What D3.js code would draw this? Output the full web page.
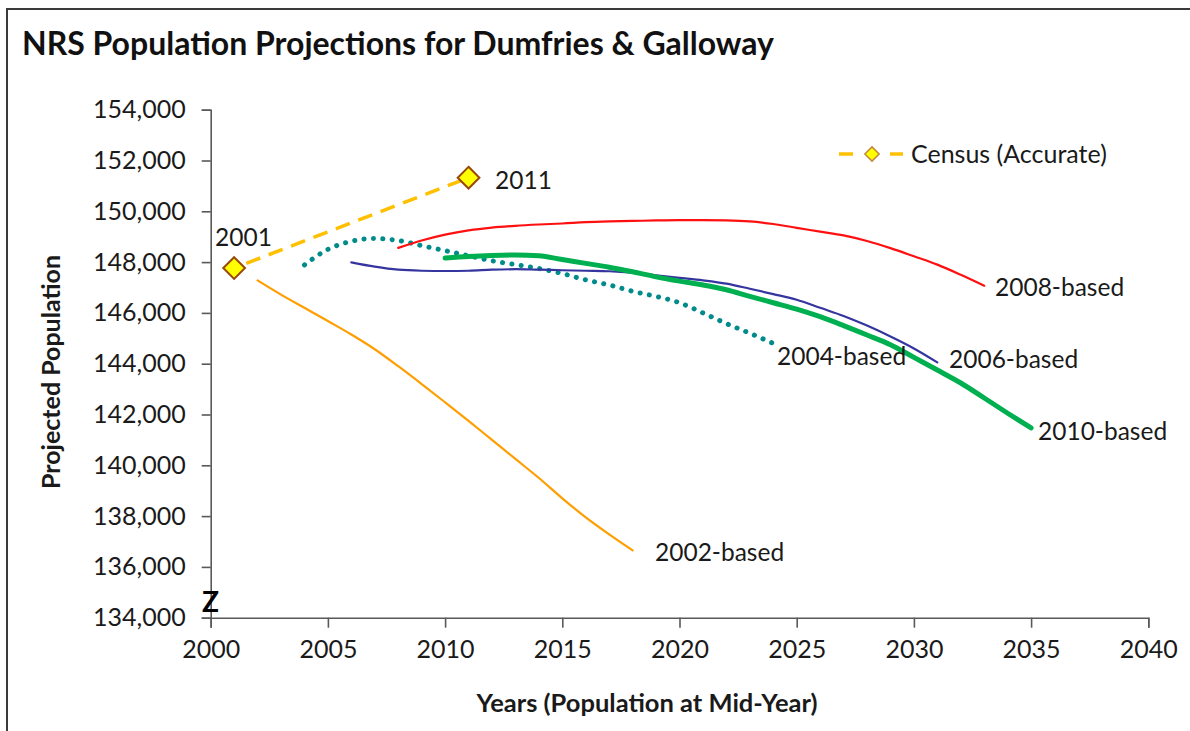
<!DOCTYPE html>
<html>
<head>
<meta charset="utf-8">
<script src="https://cdn.jsdelivr.net/npm/d3@7"></script>
<style>
  html, body { margin: 0; padding: 0; background: #fff; }
  svg { display: block; }
  text { font-family: Lato, "Open Sans", sans-serif; fill: #1a1a1a; }
</style>
</head>
<body>
<svg id="chart" width="1190" height="731"></svg>
<script>
// ---- Data ----
const censusYears = [2001, 2011];
const censusValues = [147765, 151324];

const years2002 = d3.range(2002, 2019);
const values2002 = [147280, 146720, 146200, 145680, 145150, 144570, 143900, 143200, 142480,
                    141750, 141000, 140250, 139500, 138700, 137950, 137280, 136650];

const years2004 = d3.range(2004, 2025);
const values2004 = [147890, 148500, 148820, 148930, 148850, 148650, 148450, 148250, 148050,
                    147900, 147750, 147550, 147300, 147100, 146850, 146650, 146400, 146000,
                    145580, 145200, 144800];

const years2006 = d3.range(2006, 2032);
const values2006 = [147990, 147820, 147700, 147660, 147650, 147660, 147700, 147720, 147700,
                    147680, 147660, 147640, 147580, 147480, 147380, 147280, 147150, 146950,
                    146740, 146520, 146200, 145880, 145500, 145070, 144600, 144050];

const years2008 = d3.range(2008, 2034);
const values2008 = [148560, 148850, 149080, 149250, 149360, 149430, 149480, 149520, 149570,
                    149600, 149620, 149640, 149650, 149650, 149640, 149600, 149500, 149350,
                    149200, 149050, 148830, 148550, 148230, 147900, 147500, 147070];

const years2010 = d3.range(2010, 2036);
const values2010 = [148160, 148220, 148260, 148280, 148250, 148100, 147950, 147800, 147620,
                    147420, 147250, 147100, 146910, 146650, 146400, 146150, 145850, 145500,
                    145130, 144750, 144250, 143750, 143240, 142650, 142050, 141470];

const xTicks = d3.range(2000, 2041, 5);
const yTicks = d3.range(134000, 154001, 2000);

const seriesLabels = ["2002-based", "2004-based", "2006-based", "2008-based", "2010-based"];
const censusPointLabels = ["2001", "2011"];
const legendLabel = "Census (Accurate)";
const titleText = "NRS Population Projections for Dumfries & Galloway";
const xTitle = "Years (Population at Mid-Year)";
const yTitle = "Projected Population";

// ---- Setup ----
const svg = d3.select("#chart");
const x = d3.scaleLinear().domain([2000, 2040]).range([210.7, 1148.3]);
const y = d3.scaleLinear().domain([134000, 154000]).range([617.7, 109.7]);

// outer frame
svg.append("path")
  .attr("d", "M7,740 L7,9 L1200,9")
  .attr("fill", "none").attr("stroke", "#3a3a3a").attr("stroke-width", 2);

// title
svg.append("text")
  .attr("x", 22).attr("y", 55)
  .attr("font-size", 32).attr("font-weight", "bold")
  .style("fill", "#111")
  .text(titleText);

// axes
const axisColor = "#595959";
const xAxis = svg.append("g")
  .attr("transform", `translate(0,${y(134000)})`)
  .call(d3.axisBottom(x).tickValues(xTicks).tickFormat(d3.format("d")).tickSizeOuter(0).tickSize(10).tickPadding(13));
const yAxis = svg.append("g")
  .attr("transform", `translate(${x(2000)},0)`)
  .call(d3.axisLeft(y).tickValues(yTicks).tickFormat(d3.format(",")).tickSizeOuter(0).tickSize(9).tickPadding(16));

[xAxis, yAxis].forEach(g => {
  g.select(".domain").attr("stroke", axisColor).attr("stroke-width", 1.6);
  g.selectAll(".tick line").attr("stroke", axisColor).attr("stroke-width", 1.6);
  g.selectAll(".tick text").attr("font-size", 25).attr("font-family", "Lato, sans-serif").style("fill", "#1a1a1a");
});

// axis titles
svg.append("text")
  .attr("x", 647).attr("y", 712)
  .attr("text-anchor", "middle")
  .attr("font-size", 25.5).attr("font-weight", "bold")
  .text(xTitle);
svg.append("text")
  .attr("transform", `translate(60,${372}) rotate(-90)`)
  .attr("text-anchor", "middle")
  .attr("font-size", 25).attr("font-weight", "bold")
  .text(yTitle);

// lines
const line = d3.line().x(d => x(d[0])).y(d => y(d[1])).curve(d3.curveMonotoneX);
const zipS = (ys, vs) => ys.map((yr, i) => [yr, vs[i]]);

const series = [
  { years: years2002, values: values2002, color: "#FF9E00", width: 2.2, dash: null, label: seriesLabels[0], lx: 655, ly: 561 },
  { years: years2004, values: values2004, color: "#008B8B", width: 5, dash: "0.1 9.3", label: seriesLabels[1], lx: 777, ly: 365 },
  { years: years2006, values: values2006, color: "#3535A0", width: 2.2, dash: null, label: seriesLabels[2], lx: 949, ly: 368 },
  { years: years2008, values: values2008, color: "#FF1010", width: 2.2, dash: null, label: seriesLabels[3], lx: 995, ly: 296 },
  { years: years2010, values: values2010, color: "#00B050", width: 5, dash: null, label: seriesLabels[4], lx: 1038, ly: 440 }
];

series.forEach(s => {
  const p = svg.append("path")
    .datum(zipS(s.years, s.values))
    .attr("d", line)
    .attr("fill", "none")
    .attr("stroke", s.color)
    .attr("stroke-width", s.width)
    .attr("stroke-linecap", "round")
    .attr("stroke-linejoin", "round");
  if (s.dash) p.attr("stroke-dasharray", s.dash);
});

// census dashed line
svg.append("path")
  .datum(zipS(censusYears, censusValues))
  .attr("d", d3.line().x(d => x(d[0])).y(d => y(d[1])))
  .attr("fill", "none")
  .attr("stroke", "#FFC000")
  .attr("stroke-width", 3.5)
  .attr("stroke-dasharray", "15 9")
  .attr("stroke-dashoffset", -13);

const diamond = d3.symbol().type(d3.symbolDiamond2);
svg.selectAll(".census-pt")
  .data(zipS(censusYears, censusValues))
  .join("path")
  .attr("d", diamond.size(300)())
  .attr("transform", d => `translate(${x(d[0])},${y(d[1])})`)
  .attr("fill", "#FFFF00")
  .attr("stroke", "#984807")
  .attr("stroke-width", 2);

// series labels
series.forEach(s => {
  svg.append("text")
    .attr("x", s.lx).attr("y", s.ly)
    .attr("font-size", 24.5)
    .text(s.label);
});

// census point labels
svg.append("text").attr("x", 215).attr("y", 246).attr("font-size", 24.5).text(censusPointLabels[0]);
svg.append("text").attr("x", 495).attr("y", 189).attr("font-size", 24.5).text(censusPointLabels[1]);

// legend
const lg = svg.append("g");
lg.append("line").attr("x1", 839).attr("x2", 853).attr("y1", 154).attr("y2", 154)
  .attr("stroke", "#FFC000").attr("stroke-width", 3.5);
lg.append("line").attr("x1", 890).attr("x2", 903).attr("y1", 154).attr("y2", 154)
  .attr("stroke", "#FFC000").attr("stroke-width", 3.5);
lg.append("path").attr("d", diamond.size(130)()).attr("transform", "translate(872,154)")
  .attr("fill", "#FFFF00").attr("stroke", "#C0883A").attr("stroke-width", 1.5);
lg.append("text").attr("x", 911).attr("y", 163).attr("font-size", 25).text(legendLabel);

// stray Z
svg.append("text").attr("x", 202).attr("y", 612).attr("font-size", 28).attr("font-weight", "bold")
  .style("fill", "#000").text("Z");
</script>
</body>
</html>
